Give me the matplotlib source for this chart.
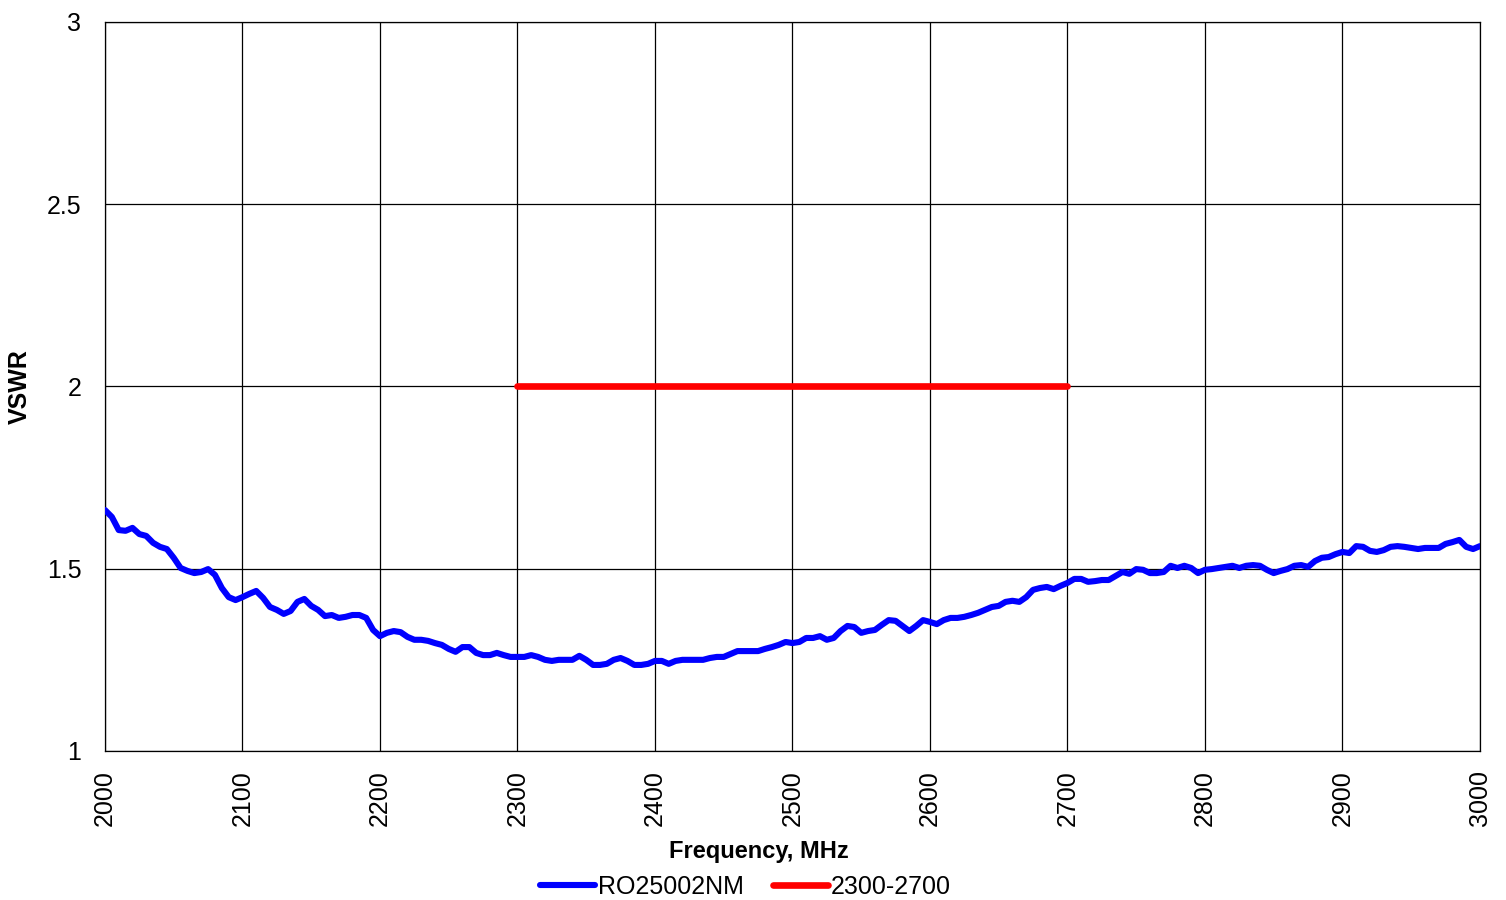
import numpy as np
import matplotlib
matplotlib.use("Agg")
import matplotlib.pyplot as plt

plt.rcParams["font.family"] = ["Liberation Sans", "DejaVu Sans"]

# ── Dados ──────────────────────────────────────────────────────────────────────
freq = np.arange(2000, 3001, 5)
vswr = [
    1.661, 1.642, 1.606, 1.604, 1.612, 1.595, 1.590, 1.571, 1.560, 1.554,
    1.530, 1.502, 1.494, 1.488, 1.491, 1.499, 1.483, 1.447, 1.422, 1.414,
    1.422, 1.431, 1.439, 1.420, 1.395, 1.387, 1.376, 1.384, 1.409, 1.417,
    1.398, 1.387, 1.370, 1.373, 1.365, 1.368, 1.373, 1.373, 1.365, 1.332,
    1.315, 1.324, 1.329, 1.326, 1.313, 1.305, 1.305, 1.302, 1.296, 1.291,
    1.280, 1.272, 1.285, 1.285, 1.269, 1.263, 1.263, 1.269, 1.263, 1.258,
    1.258, 1.258, 1.263, 1.258, 1.250, 1.247, 1.250, 1.250, 1.250, 1.261,
    1.250, 1.236, 1.236, 1.239, 1.250, 1.255, 1.247, 1.236, 1.236, 1.239,
    1.247, 1.247, 1.239, 1.247, 1.250, 1.250, 1.250, 1.250, 1.255, 1.258,
    1.258, 1.266, 1.274, 1.274, 1.274, 1.274, 1.280, 1.285, 1.291, 1.299,
    1.296, 1.299, 1.310, 1.310, 1.315, 1.305, 1.310, 1.329, 1.343, 1.340,
    1.324, 1.329, 1.332, 1.346, 1.359, 1.357, 1.343, 1.329, 1.343, 1.359,
    1.354, 1.348, 1.359, 1.365, 1.365, 1.368, 1.373, 1.379, 1.387, 1.395,
    1.398, 1.409, 1.412, 1.409, 1.422, 1.442, 1.447, 1.450, 1.444, 1.453,
    1.461, 1.472, 1.472, 1.464, 1.466, 1.469, 1.469, 1.480, 1.491, 1.486,
    1.499, 1.497, 1.488, 1.488, 1.491, 1.508, 1.502, 1.508, 1.502, 1.488,
    1.497, 1.499, 1.502, 1.505, 1.508, 1.502, 1.508, 1.510, 1.508, 1.497,
    1.488, 1.494, 1.499, 1.508, 1.510, 1.505, 1.521, 1.530, 1.532, 1.540,
    1.546, 1.543, 1.562, 1.560, 1.549, 1.546, 1.551, 1.560, 1.562, 1.560,
    1.557, 1.554, 1.557, 1.557, 1.557, 1.568, 1.573, 1.579, 1.560, 1.554,
    1.562,
]
banda_freq = [2300, 2700]
banda_vswr = [2, 2]

x_ticks = np.arange(2000, 3001, 100)
y_ticks = [1, 1.5, 2, 2.5, 3]
y_labels = ["1", "1.5", "2", "2.5", "3"]

# ── Figura ─────────────────────────────────────────────────────────────────────
fig = plt.figure(figsize=(15.06, 9), dpi=100)
ax = fig.add_axes([0.0697, 0.1656, 0.9130, 0.8100])

ax.plot(freq, vswr, color="#0000ff", linewidth=4.4, label="RO25002NM",
        solid_capstyle="round", solid_joinstyle="round", zorder=3)
ax.plot(banda_freq, banda_vswr, color="#ff0000", linewidth=4.8, label="2300-2700",
        solid_capstyle="round", zorder=3)

ax.set_xlim(2000, 3000)
ax.set_ylim(1, 3)
ax.set_xticks(x_ticks)
ax.set_xticklabels([str(v) for v in x_ticks], rotation=90, fontsize=18)
ax.set_yticks(y_ticks)
ax.set_yticklabels(y_labels, fontsize=18)
ax.tick_params(axis="x", length=0, pad=14)
ax.tick_params(axis="y", length=0, pad=17)
ax.grid(True, color="black", linewidth=0.9)
for s in ax.spines.values():
    s.set_color("black")
    s.set_linewidth(0.9)

ax.set_xlabel("Frequency, MHz", fontsize=17, fontweight="bold")
ax.xaxis.set_label_coords(0.4756, -0.122)
ax.set_ylabel("VSWR", fontsize=18, fontweight="bold", labelpad=11)

fig.legend(loc="center", bbox_to_anchor=(0.495, 0.0144), ncol=2, frameon=False,
           fontsize=18, handlelength=2.2, handletextpad=0.1, columnspacing=1.2,
           borderpad=0)

fig.savefig("out.png", dpi=100, facecolor="white")
